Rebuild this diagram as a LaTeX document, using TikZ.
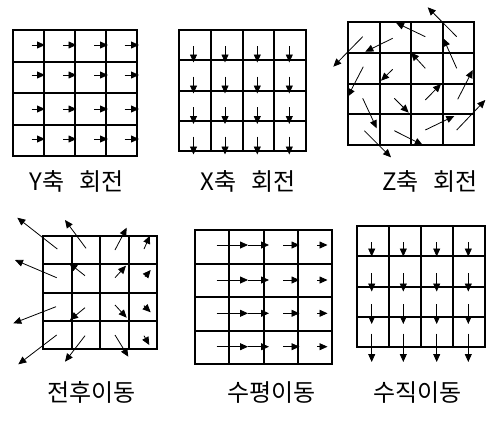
\documentclass[tikz,border=0pt]{standalone}
\usepackage{fontspec}
\newfontfamily\kr{Noto Sans CJK KR}
\usepackage{tikz}
\usetikzlibrary{arrows.meta}
% 4x4 cells between left, top, right, bottom (snapped to whole pixels)
\newcommand{\cells}[4]{%
  \foreach \i in {0,...,4}{
    \draw[gridline] ({round(#1+\i*(#3-#1)/4)},#2) -- ({round(#1+\i*(#3-#1)/4)},#4);
    \draw[gridline] (#1,{round(#2+\i*(#4-#2)/4)}) -- (#3,{round(#2+\i*(#4-#2)/4)});
  }}

\begin{document}
\begin{tikzpicture}[
    x=1pt, y=-1pt,
    gridline/.style={line width=2pt, line cap=rect},
    vec/.style={-{Triangle[length=8pt, width=7pt]}, line width=0.8pt},
    lbl/.style={font=\kr\fontsize{24}{24}\selectfont, inner sep=0pt},
]
\fill[white] (0,0) rectangle (486,423);
\useasboundingbox (0,0) rectangle (486,423);

% Y rotation
\cells{13}{30}{137}{156}
\foreach \y in {45,75,109,139}
  \foreach \a/\b in {31.5/45,63/76.5,94/108,124.5/139}
    \draw[vec] (\a,\y) -- (\b,\y);
\node[lbl] (yrot) at (76.7,181.7) {Y축 \hspace{0.4em}회전};

% X rotation
\cells{179}{30}{306}{151}
\foreach \x in {193.5,225,257.3,289.3}
  \foreach \a/\b in {46/62.5,76.7/93.5,107.3/124,136.7/154.5}
    \draw[vec] (\x,\a) -- (\x,\b);
\node[lbl] (xrot) at (248,181.7) {X축 \hspace{0.4em}회전};

% Z rotation
\cells{348}{22}{474}{145}
\foreach \a/\b/\c/\d in {362.7/36.7/333.3/66.7, 392.7/38.3/365.3/51.7,
    425.3/36.7/396/22.7, 456.7/36.7/427.7/7.3, 363.3/66.7/347.7/96.7,
    392.7/69.3/381/80.7, 425.3/68.3/411/52.7, 456.7/68.3/443.3/38.3,
    362.7/98.3/376.7/128.3, 394.3/98.3/408.7/112.7, 425.3/100/441/84,
    457.7/99.3/472.7/70, 364.3/130.7/391/157.3, 394.3/130.7/422.7/145,
    425.3/130/454.3/116, 456.7/130/485.3/100}
  \draw[vec] (\a,\b) -- (\c,\d);
\node[lbl] (zrot) at (430,181.7) {Z축 \hspace{0.4em}회전};

% forward / backward
\cells{43}{236}{157}{349}
\foreach \a/\b/\c/\d in {57.3/249/17.3/217.7, 86/248.3/65/220,
    115/250/126.7/227.7, 144/249/150/235.7, 56.7/277.7/15/260,
    85/275.7/69.3/263.3, 115/277.7/126/265.7, 145/276.7/150.7/270,
    56/306.7/13.3/323.3, 85/307.7/70/320, 115/305/126.7/317.7,
    144/305.7/150.7/312.3, 56.7/335/18.3/364.3, 85/335.7/65/361.7,
    115/335/128.3/356.7, 144/335.7/149.3/345}
  \draw[vec] (\a,\b) -- (\c,\d);
\node[lbl] (fwd) at (91.7,392.5) {전후이동};

% horizontal shift
\cells{195}{230}{332}{364}
\foreach \y in {245,280,313.3,346.7}
  \foreach \a/\b in {216.7/248,248/269,283.3/299.5,317/327.5}
    \draw[vec] (\a,\y) -- (\b,\y);
\node[lbl] (hor) at (271.7,392.5) {수평이동};

% vertical shift
\cells{357}{226}{485}{347}
\foreach \x in {371.7,403.3,436.7,468.3}
  \foreach \a/\b in {242/256.5,273/291.5,304/324,333.5/362}
    \draw[vec] (\x,\a) -- (\x,\b);
\node[lbl] (ver) at (417.5,392.5) {수직이동};
\end{tikzpicture}
\end{document}
